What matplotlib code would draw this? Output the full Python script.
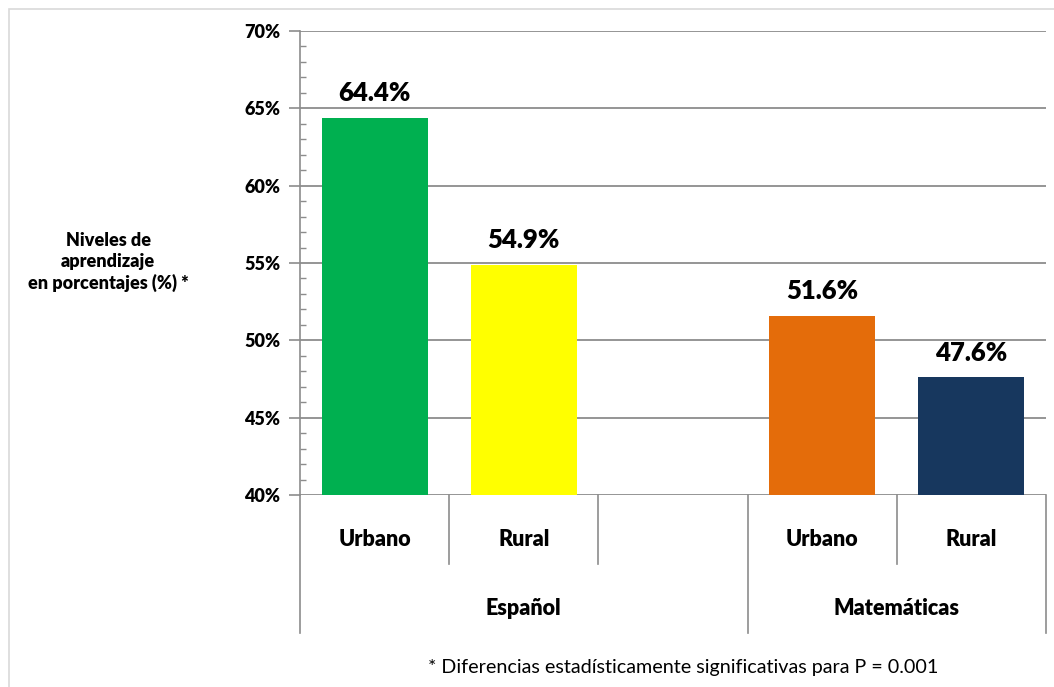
import numpy as np
import matplotlib.pyplot as plt
import matplotlib.transforms as mtransforms
from matplotlib.lines import Line2D
from matplotlib.patches import Rectangle

plt.rcParams['font.family'] = ['Lato', 'DejaVu Sans']

# datos
grupos = ['Español', 'Matemáticas']
categorias = ['Urbano', 'Rural', '', 'Urbano', 'Rural']
valores = [64.4, 54.9, None, 51.6, 47.6]
colores = ['#00B050', '#FFFF00', None, '#E46C0A', '#17375E']
yticks = [40, 45, 50, 55, 60, 65, 70]

gris = '#8c8c8c'
peso = 'heavy'

fig = plt.figure(figsize=(10.54, 6.87), dpi=100)
ax = fig.add_axes([300/1054, 1-495/687, 746/1054, 464/687])

# marco exterior
fig.patches.append(Rectangle((9/1054, -0.1), 1.2, 1-9/687+0.1, transform=fig.transFigure,
                             fill=False, edgecolor='#d9d9d9', lw=1.2))

x = np.arange(len(categorias))
for i, v in enumerate(valores):
    if v is None:
        continue
    ax.bar(x[i], v - 40, bottom=40, width=0.71, color=colores[i], zorder=3)
    ax.annotate(f'{v:.1f}%', (x[i], v), xytext=(0, 9), textcoords='offset points',
                ha='center', va='bottom', fontsize=18.5, fontweight=peso, color='#000000')

ax.set_xlim(-0.5, 4.5)
ax.set_ylim(40, 70)
ax.set_yticks(yticks)
ax.set_yticklabels([f'{t}%' for t in yticks], fontsize=13, fontweight=peso)
ax.set_yticks(np.arange(40, 71, 1), minor=True)
ax.tick_params(axis='y', which='major', direction='out', length=8, width=1.2, color=gris, pad=6)
ax.tick_params(axis='y', which='minor', direction='in', length=4, width=1.0, color=gris)
ax.set_xticks([])
ax.grid(axis='y', which='major', color=gris, lw=1.3, zorder=0)

for s in ['top', 'right', 'bottom']:
    ax.spines[s].set_visible(False)
ax.spines['left'].set_color(gris)
ax.spines['left'].set_linewidth(1.2)

# etiquetas de categorias en dos niveles
trans = mtransforms.blended_transform_factory(ax.transData, ax.transAxes)
for b in [-0.5, 0.5, 1.5, 2.5, 3.5, 4.5]:
    largo = -0.2974 if b in (-0.5, 2.5, 4.5) else -0.1487
    ax.add_line(Line2D([b, b], [0, largo], transform=trans, color=gris, lw=1.2, clip_on=False))
for i, c in enumerate(categorias):
    ax.text(x[i], -0.095, c, transform=trans, ha='center', va='center',
            fontsize=15.5, fontweight=peso)
ax.text(1.0, -0.245, grupos[0], transform=trans, ha='center', va='center',
        fontsize=15.5, fontweight=peso)
ax.text(3.5, -0.245, grupos[1], transform=trans, ha='center', va='center',
        fontsize=15.5, fontweight=peso)

fig.text(108/1054, 1-262/687, 'Niveles de\naprendizaje\nen porcentajes (%) *',
         ha='center', va='center', fontsize=13, fontweight=peso, linespacing=1.25)
fig.text(683/1054, 1-668/687, '* Diferencias estadísticamente significativas para P = 0.001',
         ha='center', va='center', fontsize=14.2)

fig.savefig('out.png', dpi=100)
